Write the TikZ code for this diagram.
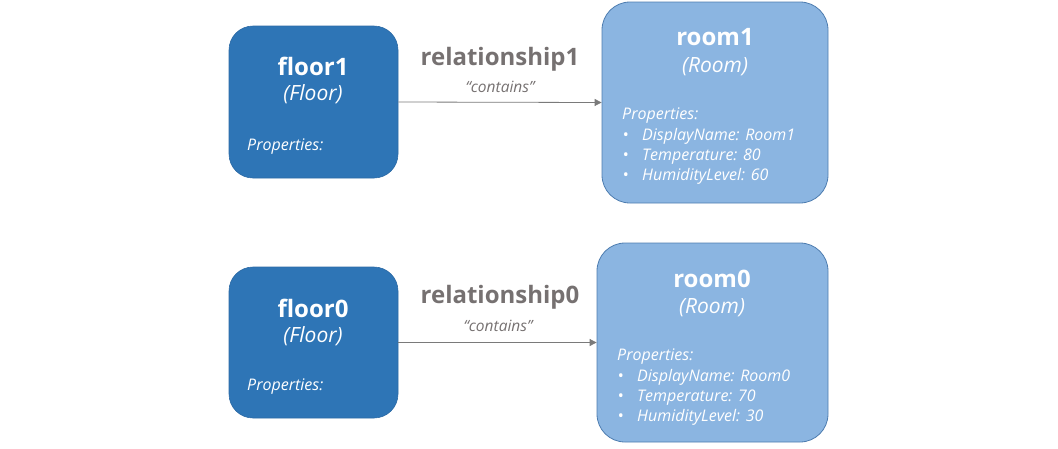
\documentclass[tikz,border=0pt]{standalone}
\usepackage{fontspec}
\setmainfont{Open Sans}
\usetikzlibrary{arrows.meta}
\definecolor{floorblue}{HTML}{2E75B6}
\definecolor{floorline}{HTML}{2C6AA5}
\definecolor{roomblue}{HTML}{8BB5E1}
\definecolor{roomline}{HTML}{4E7DB0}
\definecolor{relgray}{HTML}{767171}
\definecolor{arrowgray}{HTML}{7A7A7A}
\tikzset{
  floorbox/.style={draw=floorline, line width=0.6pt, fill=floorblue, rounded corners=24pt, inner sep=0pt},
  roombox/.style={draw=roomline, line width=0.8pt, fill=roomblue, rounded corners=28pt, inner sep=0pt},
  title/.style={anchor=base, text=white, font=\fontsize{24}{28}\selectfont\bfseries, inner sep=0pt},
  typ/.style={anchor=base, text=white, font=\fontsize{21}{24}\selectfont\itshape, inner sep=0pt},
  prop/.style={anchor=base west, text=white, font=\fontsize{16}{18}\selectfont\itshape, inner sep=0pt},
  bul/.style={anchor=base, text=white, font=\fontsize{16}{18}\selectfont, inner sep=0pt},
  rel/.style={anchor=base, text=relgray, font=\fontsize{24}{28}\selectfont\bfseries, inner sep=0pt},
  cont/.style={anchor=base, text=relgray, font=\fontsize{15.5}{18}\selectfont\itshape, inner sep=0pt},
  link/.style={draw=arrowgray, line width=0.8pt, -{Triangle[length=7pt,width=7pt]}}
}
\begin{document}
\begin{tikzpicture}[x=1pt, y=-1pt]
\useasboundingbox (0,0) rectangle (1058,448);
% boxes
\node[floorbox, minimum width=169pt, minimum height=152pt] (floor1) at (313.5,102) {};
\node[roombox, minimum width=226pt, minimum height=201pt] (room1) at (715,102.5) {};
\node[floorbox, minimum width=169pt, minimum height=151pt] (floor0) at (313.5,342.5) {};
\node[roombox, minimum width=231pt, minimum height=199pt] (room0) at (712.5,342.5) {};
% floor1 text
\node[title] (f1t) at (313,75) {floor1};
\node[typ] (f1y) at (313,100) {(Floor)};
\node[prop] (f1p) at (247,150) {Properties:};
% room1 text
\node[title] (r1t) at (715,45) {room1};
\node[typ] (r1y) at (715,72) {(Room)};
\node[prop] (r1p) at (622,119) {Properties:};
\node[bul] (r1b1) at (626,140) {•};
\node[bul] (r1b2) at (626,160) {•};
\node[bul] (r1b3) at (626,180) {•};
\node[prop] (r1a) at (642,140) {DisplayName: Room1};
\node[prop] (r1b) at (642,160) {Temperature: 80};
\node[prop] (r1c) at (642,180) {HumidityLevel: 60};
% floor0 text
\node[title] (f0t) at (313,317) {floor0};
\node[typ] (f0y) at (313,342) {(Floor)};
\node[prop] (f0p) at (247,390) {Properties:};
% room0 text
\node[title] (r0t) at (712,287) {room0};
\node[typ] (r0y) at (712,313) {(Room)};
\node[prop] (r0p) at (617,360) {Properties:};
\node[bul] (r0b1) at (621,381) {•};
\node[bul] (r0b2) at (621,401) {•};
\node[bul] (r0b3) at (621,421) {•};
\node[prop] (r0a) at (637,381) {DisplayName: Room0};
\node[prop] (r0b) at (637,401) {Temperature: 70};
\node[prop] (r0c) at (637,421) {HumidityLevel: 30};
% relationships
\node[rel] (rel1) at (500,65) {relationship1};
\node[cont] (c1) at (500,92) {“contains”};
\node[rel] (rel0) at (500,303) {relationship0};
\node[cont] (c0) at (498,331) {“contains”};
\draw[link] (floor1.east) -- (room1.west);
\draw[link] (floor0.east) -- (room0.west);
\end{tikzpicture}
\end{document}
